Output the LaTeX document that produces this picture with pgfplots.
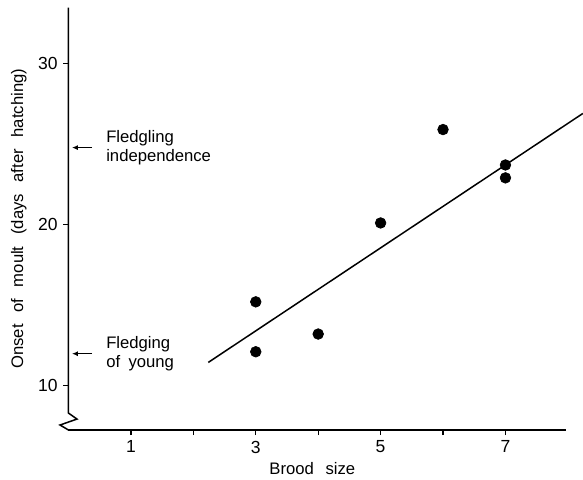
\documentclass[border=0pt]{standalone}
\usepackage{fontspec}
\setmainfont{Liberation Sans}
\usepackage{pgfplots}
\pgfplotsset{compat=1.18}
\usetikzlibrary{arrows.meta}
\newcommand\labelfont{\spaceskip=7pt\relax}
\newcommand\notefont{\fontsize{10}{11.4}\selectfont\spaceskip=5pt\relax}

\begin{document}
\begin{tikzpicture}
  \begin{axis}[
    scale only axis, width=298.5pt, height=253.5pt,
    xmin=0, xmax=7.97, ymin=7.24, ymax=33.48,
    axis x line=bottom, axis y line=left,
    axis line style={-, line width=0.9pt},
    y axis line style={draw=none},
    xtick={1,2,3,4,5,6,7}, xticklabels={1,,3,,5,,7},
    ytick={10,20,30},
    tick align=outside, major tick length=3pt,
    tick style={black, line width=0.8pt},
    /pgf/number format/assume math mode=true,
    tick label style={font=\fontsize{10.5}{12}\selectfont},
    xlabel={Brood size}, ylabel={Onset of moult (days after hatching)},
    every axis x label/.style={at={(axis description cs:0.49,-0.092)}, anchor=center,
      font=\labelfont},
    every axis y label/.style={at={(axis description cs:-0.1,0.5)}, rotate=90, anchor=center,
      font=\labelfont},
    clip=false,
  ]
    % fitted line
    \addplot[black, line width=0.9pt] coordinates {(2.24,11.44) (8.24,26.9)};
    % observations
    \addplot[only marks, mark=*, mark size=3.2pt, black] coordinates {
      (3,15.2) (3,12.1) (4,13.2) (5,20.1) (6,25.9) (7,23.7) (7,22.9)
    };
    % y axis with break
    \draw[line width=0.9pt] (axis cs:0,33.48) -- (axis cs:0,8.29) -- (axis cs:0.136,7.92)
      -- (axis cs:-0.136,7.55) -- (axis cs:0,7.24);
    % annotations
    \draw[line width=0.9pt, -{Latex[length=3.5pt,width=3pt]}] (axis cs:0.377,24.78) -- (axis cs:0.056,24.78);
    \node[anchor=west, align=left, inner sep=0pt, font=\notefont]
      at (axis cs:0.60,24.78) {Fledgling\\independence};
    \draw[line width=0.9pt, -{Latex[length=3.5pt,width=3pt]}] (axis cs:0.377,11.98) -- (axis cs:0.056,11.98);
    \node[anchor=west, align=left, inner sep=0pt, font=\notefont]
      at (axis cs:0.60,11.98) {Fledging\\of young};
    \coordinate (o) at (axis cs:0,7.24);
  \end{axis}
  \pgfresetboundingbox
  \path[use as bounding box] ([shift={(-41.1pt,-29.4pt)}]o) rectangle ++(349.8pt,287.4pt);
\end{tikzpicture}
\end{document}
